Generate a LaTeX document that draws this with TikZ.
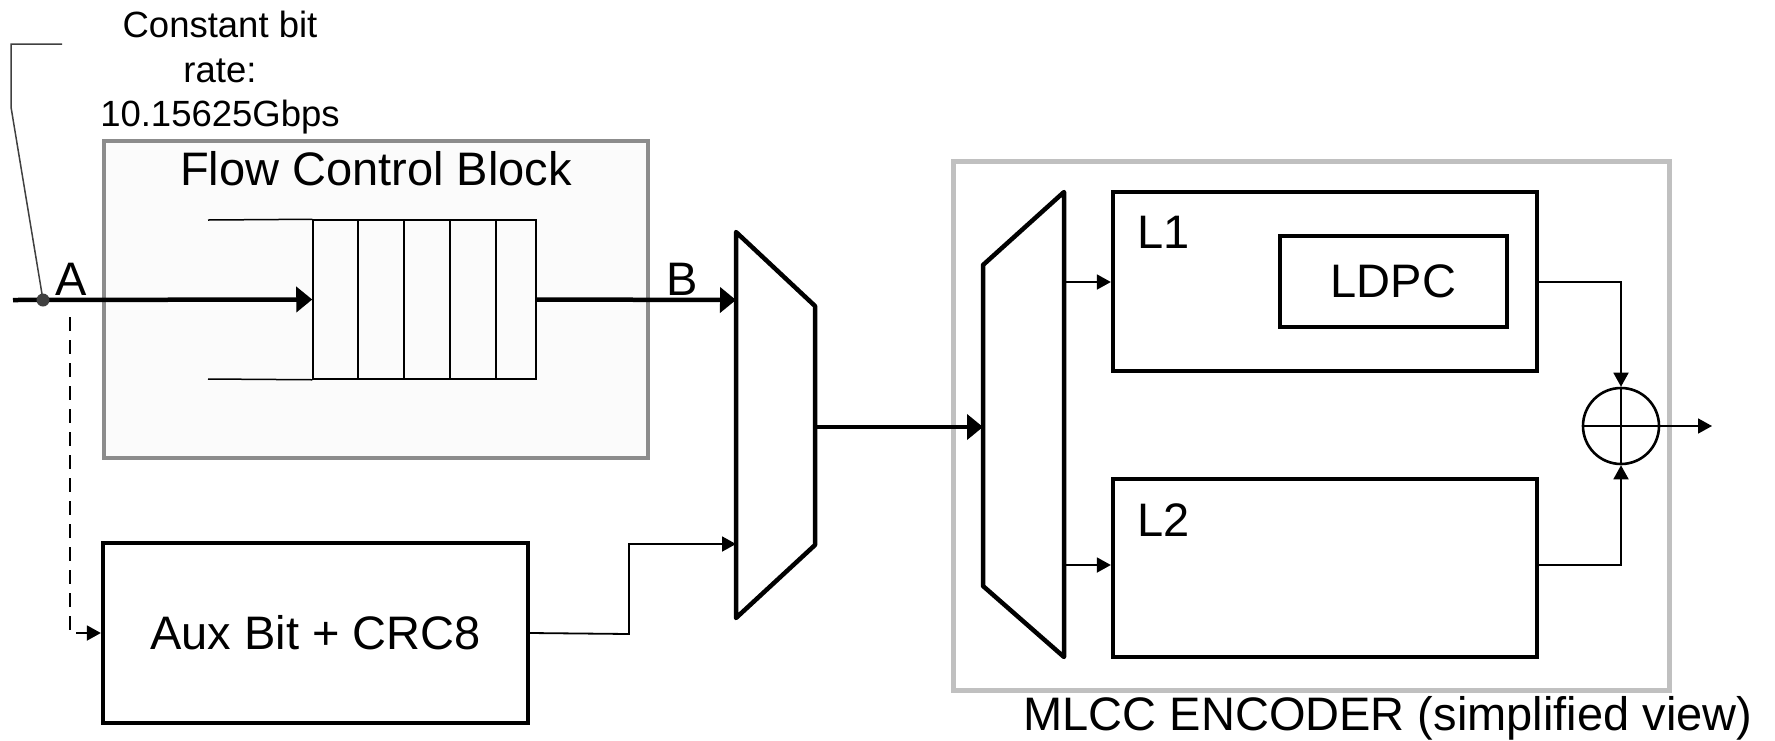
\documentclass[tikz,border=0pt]{standalone}
\usepackage{fontspec}
\setmainfont{Liberation Sans}
\usepackage{xcolor}
\usepackage{tikz}
\usetikzlibrary{arrows.meta,positioning,calc}

\definecolor{fcbgray}{HTML}{8C8C8C}
\definecolor{fcbfill}{HTML}{FBFBFB}
\definecolor{encgray}{HTML}{C0C0C0}
\definecolor{leadgray}{HTML}{404040}

\begin{document}
\begin{tikzpicture}[
  x=1pt, y=-1pt,
  txt/.style={font=\fontsize{47}{56}\selectfont, inner sep=0},
  note/.style={font=\fontsize{36.5}{44.5}\selectfont, inner sep=0, align=center},
  blk/.style={draw, line width=4.3pt, inner sep=0, font=\fontsize{47}{56}\selectfont},
  wire/.style={line width=1.8pt},
  bus/.style={line width=4.5pt},
  arr/.style={wire, -{Triangle[length=14pt, width=15pt]}},
  barr/.style={bus, -{Triangle[length=16pt, width=25pt]}}
]
\useasboundingbox (0,0) rectangle (1775,740);

% flow control block
\node[draw=fcbgray, fill=fcbfill, line width=4pt, minimum width=544pt, minimum height=317pt] (fcb) at (376,299.5) {};
\node[txt, anchor=base] (fcbtitle) at (376,185) {Flow Control Block};
\node[draw, line width=1.5pt, minimum width=223pt, minimum height=159pt, inner sep=0] (queue) at (424.5,299.5) {};
\foreach \x in {358,404,450,496}
  \draw[line width=1.5pt] (\x,220) -- (\x,379);
\draw[line width=1.5pt] (208,220) -- (queue.north west);
\draw[line width=1.5pt] (208,379) -- (queue.south west);

% input tap A
\coordinate (in) at (13,300);
\coordinate (tap) at (43,300);
\coordinate (dashtop) at (70,317);
\draw[barr] (in) -- (queue.west);
\draw[leadgray, line width=1.5pt] (62,44) -- (11,44) -- (11,107) -- (tap);
\fill[leadgray] (tap) circle (6.5pt);
\node[txt, anchor=base] (lblA) at (71,295) {A};
\node[note, anchor=north] (rate) at (220,11) {Constant bit\\rate:\\10.15625Gbps};

% aux bits
\node[blk, minimum width=425pt, minimum height=180pt] (aux) at (315.5,633) {Aux Bit + CRC8};
\draw[wire, dash pattern=on 14pt off 9pt, -{Triangle[length=14pt, width=15pt]}] (dashtop) |- (aux.west);

% first mux
\coordinate (mux1a) at (736,300);
\coordinate (mux1b) at (736,544);
\coordinate (mux1o) at (815,427);
\draw[line width=4.5pt, line join=round] (736,232) -- (815,306) -- (815,545) -- (736,618) -- cycle;
\draw[barr] (queue.east) -- (mux1a);
\node[txt, anchor=base] (lblB) at (682,295) {B};
\draw[arr] (aux.east) -- (629,634) |- (mux1b);

% MLCC encoder
\node[draw=encgray, line width=5pt, minimum width=716pt, minimum height=529pt] (enc) at (1311,425.5) {};
\node[txt, anchor=base] (enctitle) at (1388,730) {MLCC ENCODER (simplified view)};
\coordinate (dmxin) at (983,427);
\coordinate (dmx1) at (1064,282);
\coordinate (dmx2) at (1064,565);
\draw[line width=4.5pt, line join=round] (983,265) -- (1064,192) -- (1064,657) -- (983,586) -- cycle;
\draw[barr] (mux1o) -- (dmxin);

\node[blk, minimum width=424pt, minimum height=179pt] (l1) at (1325,281.5) {};
\node[blk, minimum width=424pt, minimum height=178pt] (l2) at (1325,568) {};
\node[txt, anchor=base west] (l1lbl) at (1137,248) {L1};
\node[txt, anchor=base west] (l2lbl) at (1137,536) {L2};
\node[blk, minimum width=227pt, minimum height=91pt] (ldpc) at (1393.5,281.5) {LDPC};
\draw[arr] (dmx1) -- (dmx1 -| l1.west);
\draw[arr] (dmx2) -- (dmx2 -| l2.west);

% sum
\node[draw, circle, line width=2.6pt, minimum size=76pt, inner sep=0] (sum) at (1621,426) {};
\draw[wire] (sum.north) -- (sum.south);
\draw[wire] (sum.west) -- (sum.east);
\coordinate (out) at (1712,426);
\draw[arr] (l1.east |- dmx1) -| (sum.north);
\draw[arr] (l2.east |- dmx2) -| (sum.south);
\draw[arr] (sum.east) -- (out);
\end{tikzpicture}
\end{document}
